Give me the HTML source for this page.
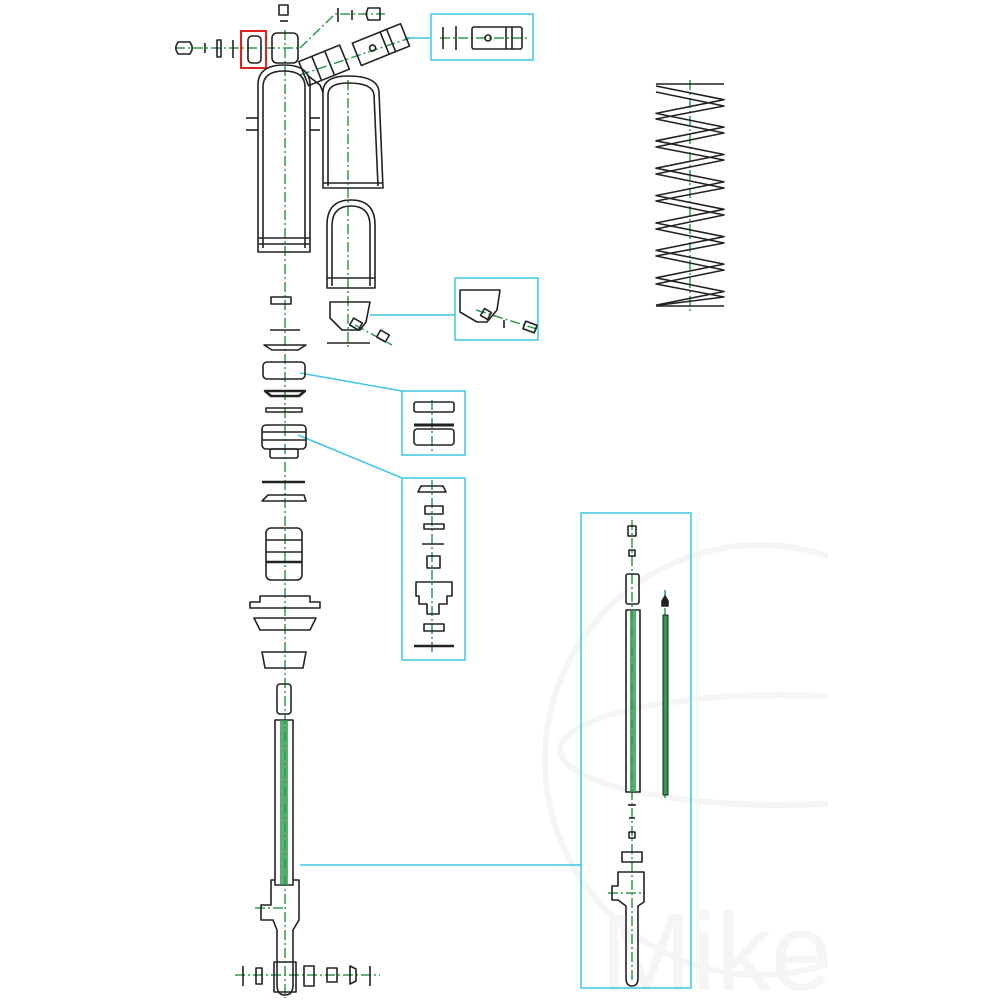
<!DOCTYPE html>
<html><head><meta charset="utf-8"><style>
html,body{margin:0;padding:0;background:#fff;width:1000px;height:1000px;overflow:hidden}
svg{display:block}
</style></head><body>
<svg width="1000" height="1000" viewBox="0 0 1000 1000" xmlns="http://www.w3.org/2000/svg">
<defs><clipPath id="wm"><rect x="500" y="500" width="328" height="500"/></clipPath></defs>
<g clip-path="url(#wm)">
<g fill="none" stroke="#f5f5f5" stroke-width="6">
<circle cx="760" cy="760" r="215"/>
<ellipse cx="780" cy="750" rx="220" ry="55"/>
</g>
<text x="600" y="990" font-family="Liberation Sans, sans-serif" font-size="110" fill="#f5f5f5">Mike</text>
</g>

<g fill="none" stroke="#2e9b4e" stroke-width="1.5" stroke-dasharray="10,3,2,3">
<line x1="285" y1="30" x2="285" y2="998"/>
<line x1="175" y1="48" x2="300" y2="48"/>
<polyline points="300,48 335,14 385,14"/>
<line x1="300" y1="75" x2="410" y2="38"/>
<line x1="440" y1="38" x2="530" y2="38"/>
<line x1="348" y1="80" x2="348" y2="350"/>
<line x1="690" y1="80" x2="690" y2="312"/>
<line x1="432" y1="400" x2="432" y2="452"/>
<line x1="432" y1="480" x2="432" y2="655"/>
<line x1="632" y1="520" x2="632" y2="980"/>
<line x1="665" y1="590" x2="665" y2="800"/>
<line x1="235" y1="975" x2="380" y2="975"/>
<line x1="255" y1="908" x2="285" y2="908"/>
<line x1="355" y1="325" x2="392" y2="345"/>
<line x1="476" y1="310" x2="540" y2="330"/>
<line x1="608" y1="893" x2="645" y2="893"/>
</g>

<g fill="none" stroke="#3ec6e6" stroke-width="1.5">
<rect x="431" y="14" width="102" height="46"/>
<line x1="405" y1="38" x2="431" y2="38"/>
<rect x="455" y="278" width="83" height="62"/>
<line x1="370" y1="315" x2="455" y2="315"/>
<rect x="402" y="391" width="63" height="64"/>
<line x1="300" y1="373" x2="402" y2="391"/>
<rect x="402" y="478" width="63" height="182"/>
<line x1="298" y1="435" x2="402" y2="478"/>
<rect x="581" y="513" width="110" height="475"/>
<line x1="300" y1="865" x2="581" y2="865"/>
</g>
<rect x="241" y="31" width="25" height="37" fill="none" stroke="#e02020" stroke-width="2"/>

<g fill="none" stroke="#222" stroke-width="1.6" stroke-linejoin="round">
<path d="M178,42 h12 l2,4 v4 l-2,4 h-12 l-2,-4 v-4z"/>
<line x1="205" y1="43" x2="205" y2="53"/>
<rect x="217" y="40" width="4" height="17"/>
<line x1="233" y1="40" x2="233" y2="58"/>
<rect x="248" y="36" width="13" height="27" rx="4"/>
<rect x="272" y="33" width="26" height="30" rx="5"/>
<rect x="279" y="5" width="9" height="10"/>
<line x1="280" y1="21" x2="288" y2="21"/>
<line x1="338" y1="8" x2="338" y2="22"/>
<line x1="352" y1="10" x2="352" y2="20"/>
<path d="M368,8 h12 v12 h-12 l-2,-6z"/>
<g transform="rotate(-22 325 65)"><rect x="302" y="52" width="44" height="26"/><line x1="316" y1="52" x2="316" y2="78"/><line x1="330" y1="52" x2="330" y2="78"/></g>
<g transform="rotate(-22 380 45)"><rect x="355" y="33" width="52" height="24"/><line x1="385" y1="33" x2="385" y2="57"/><line x1="392" y1="33" x2="392" y2="57"/><circle cx="372" cy="45" r="3"/></g>
<line x1="443" y1="27" x2="443" y2="49"/>
<line x1="456" y1="26" x2="456" y2="50"/>
<rect x="472" y="27" width="50" height="22" rx="2"/>
<line x1="506" y1="27" x2="506" y2="49"/><line x1="512" y1="27" x2="512" y2="49"/>
<circle cx="488" cy="38" r="3"/>
<path d="M258,252 V85 q0,-20 26,-20 q26,0 26,20 V252z"/>
<path d="M263,248 V87 q0,-16 21,-16 q21,0 21,16 V248"/>
<line x1="258" y1="238" x2="310" y2="238"/>
<line x1="258" y1="244" x2="310" y2="244"/>
<line x1="246" y1="118" x2="258" y2="118"/><line x1="246" y1="130" x2="258" y2="130"/>
<line x1="310" y1="118" x2="320" y2="118"/><line x1="310" y1="130" x2="320" y2="130"/>
<path d="M323,188 V92 q0,-16 25,-16 q30,0 31,16 L383,188z"/>
<path d="M328,186 V95 q0,-12 20,-12 q25,0 26,12 L378,186"/>
<line x1="323" y1="183" x2="383" y2="183"/>
<path d="M307,75 L320,85 L323,92"/>
<path d="M327,288 V225 q0,-25 24,-25 q24,0 24,25 V288z"/>
<path d="M332,286 V226 q0,-20 19,-20 q19,0 19,20 V286"/>
<line x1="327" y1="278" x2="375" y2="278"/>
<path d="M330,302 h40 l-4,20 l-6,8 h-18 l-12,-12z"/>
<rect x="351" y="320" width="10" height="8" transform="rotate(30 356 324)"/>
<rect x="378" y="332" width="10" height="8" transform="rotate(30 383 336)"/>
<line x1="327" y1="343" x2="370" y2="343"/>
<path d="M460,290 h40 l-3,20 l-10,12 h-10 l-17,-10z"/>
<rect x="482" y="310" width="8" height="8" transform="rotate(30 486 314)"/>
<line x1="504" y1="320" x2="504" y2="328"/>
<rect x="524" y="323" width="12" height="8" transform="rotate(20 530 327)"/>
<rect x="271" y="297" width="20" height="7"/>
<line x1="270" y1="330" x2="300" y2="330"/>
<path d="M264,345 h42 l-8,5 h-26z"/>
<rect x="263" y="362" width="42" height="17" rx="4"/>
<path d="M265,391 h40 l-6,5 h-28z" stroke-width="2.5"/>
<rect x="266" y="408" width="36" height="4"/>
<rect x="262" y="425" width="44" height="24" rx="4"/>
<line x1="262" y1="432" x2="306" y2="432"/><line x1="262" y1="440" x2="306" y2="440"/>
<rect x="270" y="449" width="28" height="9" rx="2"/>
<line x1="262" y1="482" x2="305" y2="482" stroke-width="2.5"/>
<path d="M262,501 h44 l-2,-6 h-36z"/>
<rect x="266" y="528" width="36" height="52" rx="5"/>
<line x1="266" y1="540" x2="302" y2="540"/><line x1="266" y1="552" x2="302" y2="552"/><line x1="266" y1="562" x2="302" y2="562" stroke-width="2.5"/>
<path d="M250,608 h70 v-6 h-10 v-6 h-50 v6 h-10z"/>
<path d="M254,618 h62 l-6,12 h-50z"/>
<path d="M262,652 h44 l-3,16 h-38z"/>
<rect x="414" y="402" width="40" height="10" rx="2"/>
<line x1="414" y1="425" x2="454" y2="425" stroke-width="3"/>
<rect x="414" y="429" width="40" height="16" rx="3"/>
<path d="M418,492 h28 l-3,-6 h-22z"/>
<rect x="425" y="506" width="18" height="8"/>
<rect x="424" y="524" width="20" height="5"/>
<line x1="422" y1="544" x2="444" y2="544"/>
<rect x="427" y="556" width="13" height="12"/>
<path d="M416,582 h36 v14 h-5 v8 h-8 v10 h-12 v-10 h-8 v-8 h-3z"/>
<rect x="424" y="624" width="20" height="7"/>
<line x1="414" y1="646" x2="454" y2="646" stroke-width="2.5"/>
<rect x="277" y="684" width="14" height="30" rx="3"/>
<rect x="275" y="720" width="18" height="165"/>
<rect x="280" y="720" width="8" height="165" fill="#2e9b4e" stroke="none" opacity="0.8"/>
<path d="M275,880 h-4 v25 h-10 v15 h12 l4,10 v55 q0,10 8,10 q8,0 8,-10 v-55 l6,-10 v-40 h-6"/>
<rect x="274" y="962" width="22" height="30"/>
<line x1="243" y1="966" x2="243" y2="986"/>
<rect x="256" y="968" width="6" height="16"/>
<rect x="304" y="966" width="10" height="20"/>
<rect x="327" y="968" width="10" height="14"/>
<path d="M350,966 l6,3 v12 l-6,3z"/>
<line x1="370" y1="966" x2="370" y2="986"/>
<rect x="628" y="526" width="8" height="10"/>
<rect x="629" y="550" width="6" height="6"/>
<rect x="626" y="574" width="13" height="30" rx="2"/>
<rect x="626" y="610" width="14" height="182"/>
<rect x="630" y="610" width="6" height="182" fill="#2e9b4e" stroke="none" opacity="0.8"/>
<rect x="663" y="615" width="5" height="180" fill="#2e9b4e" stroke="#222" stroke-width="1"/>
<path d="M665,596 l-3,5 v5 h6 v-5z" fill="#222"/>
<line x1="628" y1="805" x2="636" y2="805"/>
<line x1="629" y1="818" x2="635" y2="818"/>
<rect x="629" y="832" width="6" height="6"/>
<rect x="622" y="852" width="20" height="10"/>
<path d="M618,872 h26 v30 l-6,4 v72 q0,8 -6,8 q-6,0 -6,-8 v-72 l-8,-6 h-6 v-14 h6z"/>
<line x1="656" y1="84" x2="724" y2="84"/>
<line x1="656" y1="306" x2="724" y2="306"/>
<polyline points="656,86 724,99.7 656,113.4 724,127.1 656,140.8 724,154.5 656,168.2 724,181.9 656,195.6 724,209.3 656,223 724,236.7 656,250.4 724,264.1 656,277.8 724,291.5 656,305.2"/>
<polyline points="656,92 724,106 656,119 724,133 656,147 724,160 656,174 724,188 656,201 724,215 656,229 724,243 656,256 724,270 656,284 724,297 660,305"/>
</g>
</svg>
</body></html>
